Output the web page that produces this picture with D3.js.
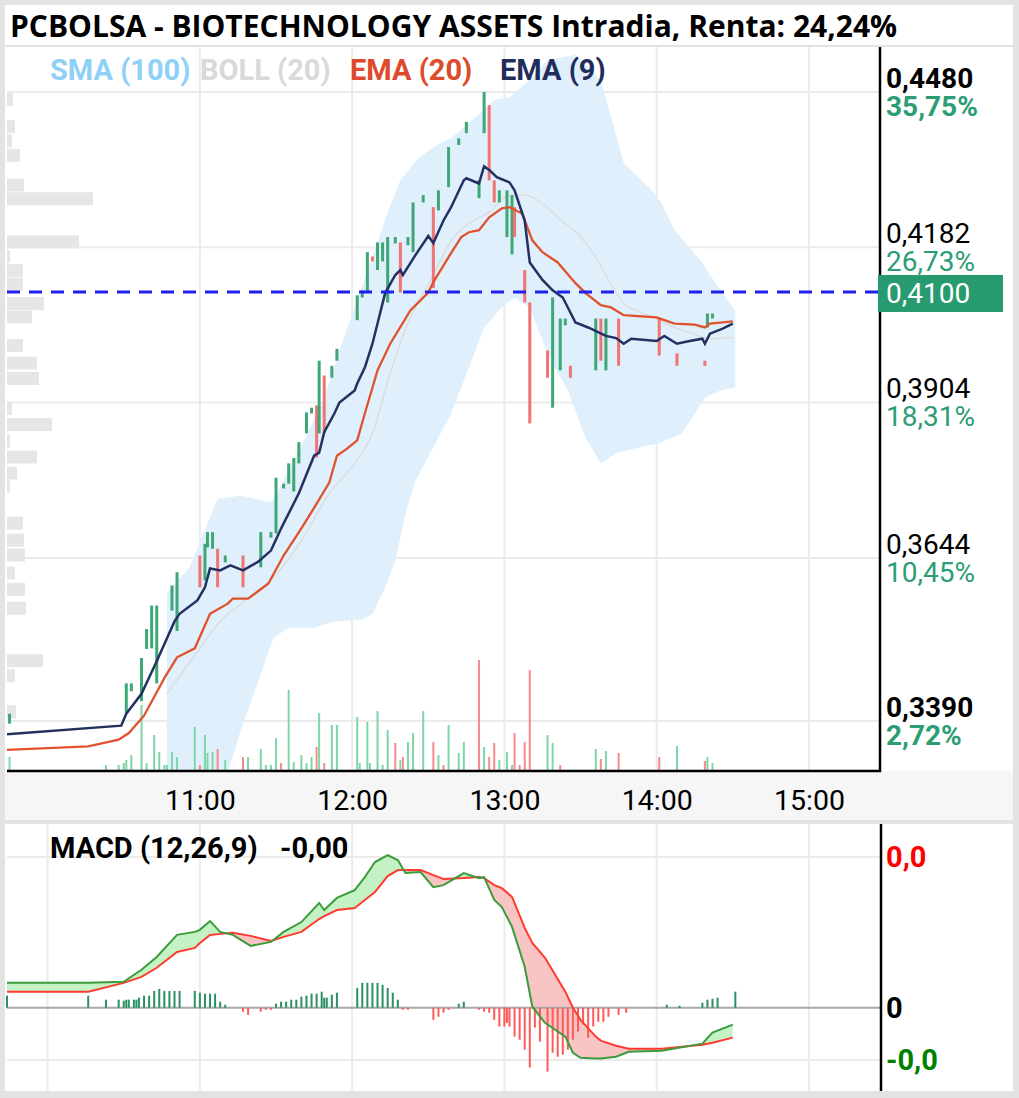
<!DOCTYPE html>
<html>
<head>
<meta charset="utf-8">
<script src="https://cdn.jsdelivr.net/npm/d3@7"></script>
<style>
  body { margin: 0; background: #fff; }
  svg { display: block; font-family: Roboto, "Noto Sans", sans-serif; }
</style>
</head>
<body>
<div id="chart"></div>
<script>
const parseTime = d3.timeParse("%H:%M");

// ---- DATA ----
const title = "PCBOLSA - BIOTECHNOLOGY ASSETS Intradia, Renta: 24,24%";
const legendNames = ["SMA (100)", "BOLL (20)", "EMA (20)", "EMA (9)"];
const legendColors = ["#8fd0f7", "#d9d9d9", "#dd4a2c", "#1f2d5c"];

const priceTicks = [0.4480, 0.4182, 0.3904, 0.3644, 0.3390];
const priceTickLabels = ["0,4480", "0,4182", "0,3904", "0,3644", "0,3390"];
const pctTickLabels = ["35,75%", "26,73%", "18,31%", "10,45%", "2,72%"];
const boldTicks = [true, false, false, false, true];
const lastPrice = 0.4100;
const lastPriceLabel = "0,4100";

const timeTicks = ["11:00", "12:00", "13:00", "14:00", "15:00"];
const macdGridTimes = ["10:00", "11:00", "12:00", "13:00", "14:00", "15:00"];

// candles: time, open, close
const candles = [
  ["09:45", 0.3386, 0.3401], ["10:31", 0.3401, 0.3447], ["10:33", 0.3435, 0.3447],
  ["10:37", 0.3420, 0.3486], ["10:39", 0.3500, 0.3531], ["10:41", 0.3501, 0.3568],
  ["10:43", 0.3447, 0.3568], ["10:49", 0.3560, 0.3600], ["10:51", 0.3528, 0.3621],
  ["11:00", 0.3648, 0.3597], ["11:02", 0.3608, 0.3667], ["11:03", 0.3661, 0.3686],
  ["11:05", 0.3659, 0.3686], ["11:07", 0.3659, 0.3597], ["11:10", 0.3637, 0.3648],
  ["11:17", 0.3648, 0.3597], ["11:24", 0.3629, 0.3686], ["11:28", 0.3677, 0.3686],
  ["11:30", 0.3684, 0.3776], ["11:33", 0.3758, 0.3766], ["11:35", 0.3766, 0.3800],
  ["11:37", 0.3753, 0.3809], ["11:39", 0.3800, 0.3836], ["11:42", 0.3851, 0.3887],
  ["11:44", 0.3885, 0.3895], ["11:46", 0.3899, 0.3810], ["11:47", 0.3851, 0.3977],
  ["11:49", 0.3951, 0.3851], ["11:52", 0.3947, 0.3968], ["11:54", 0.3977, 0.3998],
  ["12:02", 0.4049, 0.4094], ["12:04", 0.4090, 0.4103], ["12:06", 0.4099, 0.4173],
  ["12:08", 0.4165, 0.4156], ["12:10", 0.4140, 0.4191], ["12:12", 0.4156, 0.4191],
  ["12:14", 0.4081, 0.4201], ["12:17", 0.4189, 0.4201], ["12:19", 0.4191, 0.4099],
  ["12:22", 0.4186, 0.4201], ["12:24", 0.4173, 0.4266], ["12:28", 0.4266, 0.4280],
  ["12:32", 0.4257, 0.4107], ["12:34", 0.4251, 0.4289], ["12:38", 0.4295, 0.4372],
  ["12:42", 0.4376, 0.4389], ["12:45", 0.4399, 0.4421], ["12:50", 0.4274, 0.4308],
  ["12:52", 0.4399, 0.4480], ["12:54", 0.4454, 0.4308], ["12:56", 0.4308, 0.4266],
  ["12:58", 0.4266, 0.4289], ["13:01", 0.4201, 0.4289], ["13:03", 0.4169, 0.4280],
  ["13:04", 0.4257, 0.4201], ["13:08", 0.4140, 0.4081], ["13:10", 0.4081, 0.3868],
  ["13:17", 0.3995, 0.3947], ["13:19", 0.3895, 0.4090], ["13:22", 0.3960, 0.4052],
  ["13:24", 0.4040, 0.4052], ["13:26", 0.3968, 0.3947], ["13:36", 0.3960, 0.4052],
  ["13:38", 0.4052, 0.3977], ["13:40", 0.3960, 0.4052], ["13:45", 0.4052, 0.3968],
  ["14:01", 0.4052, 0.3986], ["14:08", 0.3990, 0.3968], ["14:19", 0.3977, 0.3968],
  ["14:20", 0.4036, 0.4061], ["14:22", 0.4052, 0.4061]
];

// volume: time, amount (thousands), up?
const volume = [
  ["09:45", 14, 1], ["10:23", 6, 1], ["10:28", 6, 1], ["10:30", 8, 1], ["10:31", 11, 1],
  ["10:33", 16, 1], ["10:37", 66, 1], ["10:39", 8, 1], ["10:42", 36, 1], ["10:44", 19, 1],
  ["10:46", 6, 1], ["10:47", 6, 1], ["10:49", 19, 1], ["10:51", 14, 1], ["10:58", 44, 1],
  ["11:00", 6, 0], ["11:02", 36, 1], ["11:03", 18, 1], ["11:05", 19, 1], ["11:07", 22, 0],
  ["11:10", 11, 1], ["11:17", 14, 0], ["11:19", 14, 1], ["11:24", 22, 1], ["11:26", 6, 1],
  ["11:28", 6, 1], ["11:30", 33, 1], ["11:32", 8, 0], ["11:35", 81, 1], ["11:37", 9, 1],
  ["11:40", 16, 1], ["11:42", 8, 1], ["11:44", 14, 1], ["11:46", 24, 0], ["11:47", 58, 1],
  ["11:49", 8, 0], ["11:52", 46, 1], ["11:54", 46, 1], ["12:02", 54, 1], ["12:03", 8, 1],
  ["12:06", 49, 1], ["12:07", 8, 1], ["12:10", 60, 1], ["12:12", 6, 1], ["12:14", 41, 1],
  ["12:17", 28, 0], ["12:19", 11, 1], ["12:20", 14, 0], ["12:22", 29, 1], ["12:24", 38, 1],
  ["12:28", 60, 1], ["12:32", 29, 0], ["12:34", 16, 1], ["12:36", 6, 0], ["12:38", 46, 1],
  ["12:42", 18, 1], ["12:44", 29, 1], ["12:50", 111, 0], ["12:52", 24, 1], ["12:54", 14, 0],
  ["12:56", 28, 0], ["12:58", 11, 1], ["13:01", 19, 1], ["13:03", 6, 1], ["13:04", 38, 0],
  ["13:06", 6, 0], ["13:08", 29, 0], ["13:10", 101, 0], ["13:17", 36, 1], ["13:19", 28, 1],
  ["13:22", 6, 0], ["13:36", 22, 1], ["13:38", 12, 0], ["13:40", 20, 1], ["13:45", 18, 0],
  ["14:01", 14, 0], ["14:08", 25, 1], ["14:19", 10, 0], ["14:20", 14, 1], ["14:22", 8, 1]
];

// volume profile: price level, traded amount
const profile = [
  [0.4464, 6], [0.4411, 8], [0.4383, 5], [0.4355, 13], [0.4298, 17], [0.4272, 86],
  [0.4191, 72], [0.4164, 3], [0.4138, 16], [0.4113, 16], [0.4078, 37], [0.4054, 25],
  [0.4003, 16], [0.3972, 30], [0.3945, 32], [0.3893, 5], [0.3865, 45], [0.3837, 3],
  [0.3810, 30], [0.3783, 10], [0.3761, 3], [0.3700, 16], [0.3672, 17], [0.3648, 18],
  [0.3619, 8], [0.3593, 18], [0.3563, 19], [0.3481, 36], [0.3458, 8], [0.3403, 9]
];

const emaFast = [
  ["09:44", 0.3370], ["10:29", 0.3383], ["10:31", 0.3401], ["10:37", 0.3431], ["10:43", 0.3481],
  ["10:50", 0.3543], ["10:52", 0.3555], ["10:59", 0.3576], ["11:02", 0.3597], ["11:04", 0.3627],
  ["11:08", 0.3624], ["11:12", 0.3632], ["11:17", 0.3624], ["11:23", 0.3638], ["11:28", 0.3656],
  ["11:32", 0.3692], ["11:39", 0.3750], ["11:45", 0.3813], ["11:47", 0.3818], ["11:49", 0.3853],
  ["11:53", 0.3885], ["11:55", 0.3904], ["12:01", 0.3925], ["12:02", 0.3937], ["12:05", 0.3965],
  ["12:08", 0.4007], ["12:10", 0.4043], ["12:13", 0.4098], ["12:17", 0.4131], ["12:19", 0.4140],
  ["12:20", 0.4131], ["12:25", 0.4168], ["12:30", 0.4203], ["12:32", 0.4190], ["12:36", 0.4232],
  ["12:39", 0.4257], ["12:44", 0.4308], ["12:45", 0.4312], ["12:50", 0.4302], ["12:52", 0.4335],
  ["12:54", 0.4328], ["12:57", 0.4314], ["13:02", 0.4304], ["13:04", 0.4289], ["13:08", 0.4232],
  ["13:10", 0.4154], ["13:15", 0.4122], ["13:19", 0.4103], ["13:23", 0.4090], ["13:28", 0.4045],
  ["13:33", 0.4036], ["13:40", 0.4021], ["13:44", 0.4017], ["13:47", 0.4007], ["13:50", 0.4016],
  ["14:00", 0.4012], ["14:03", 0.4021], ["14:08", 0.4007], ["14:13", 0.4012], ["14:18", 0.4016],
  ["14:19", 0.4007], ["14:21", 0.4025], ["14:26", 0.4034], ["14:30", 0.4043]
];

const emaSlow = [
  ["09:44", 0.3347], ["10:16", 0.3352], ["10:28", 0.3362], ["10:32", 0.3372], ["10:38", 0.3398],
  ["10:46", 0.3455], ["10:51", 0.3487], ["10:58", 0.3501], ["11:04", 0.3555], ["11:11", 0.3571],
  ["11:13", 0.3579], ["11:19", 0.3579], ["11:27", 0.3603], ["11:33", 0.3648], ["11:40", 0.3692],
  ["11:45", 0.3726], ["11:51", 0.3768], ["11:54", 0.3813], ["11:58", 0.3825], ["12:02", 0.3839],
  ["12:05", 0.3885], ["12:10", 0.3960], ["12:15", 0.4007], ["12:23", 0.4067], ["12:30", 0.4099],
  ["12:32", 0.4118], ["12:38", 0.4164], ["12:43", 0.4201], ["12:46", 0.4210], ["12:50", 0.4214],
  ["12:54", 0.4238], ["12:59", 0.4255], ["13:02", 0.4257], ["13:07", 0.4245], ["13:11", 0.4195],
  ["13:15", 0.4173], ["13:21", 0.4154], ["13:28", 0.4116], ["13:32", 0.4098], ["13:38", 0.4076],
  ["13:42", 0.4072], ["13:47", 0.4058], ["14:00", 0.4054], ["14:07", 0.4043], ["14:15", 0.4041],
  ["14:19", 0.4036], ["14:21", 0.4043], ["14:30", 0.4047]
];

const bollMid = [
  ["10:47", 0.3431], ["11:00", 0.3501], ["11:07", 0.3539], ["11:17", 0.3573], ["11:29", 0.3613],
  ["11:40", 0.3672], ["11:51", 0.3750], ["12:01", 0.3800], ["12:08", 0.3851], ["12:15", 0.3955],
  ["12:23", 0.4054], ["12:31", 0.4122], ["12:40", 0.4201], ["12:48", 0.4232], ["12:55", 0.4251],
  ["13:00", 0.4276], ["13:08", 0.4280], ["13:15", 0.4264], ["13:21", 0.4238], ["13:30", 0.4201],
  ["13:36", 0.4164], ["13:41", 0.4122], ["13:47", 0.4080], ["13:54", 0.4063], ["14:01", 0.4049],
  ["14:07", 0.4036], ["14:14", 0.4025], ["14:21", 0.4016], ["14:30", 0.4018]
];

const bandUpper = [
  ["10:47", 0.3587], ["10:51", 0.3608], ["10:56", 0.3629], ["11:03", 0.3700], ["11:07", 0.3741],
  ["11:16", 0.3746], ["11:28", 0.3735], ["11:31", 0.3755], ["11:40", 0.3831], ["11:48", 0.3900],
  ["11:57", 0.4021], ["12:08", 0.4164], ["12:14", 0.4247], ["12:19", 0.4308], ["12:26", 0.4350],
  ["12:32", 0.4372], ["12:39", 0.4389], ["12:46", 0.4419], ["12:51", 0.4440], ["12:56", 0.4464],
  ["13:02", 0.4470], ["13:10", 0.4504], ["13:17", 0.4544], ["13:28", 0.4554], ["13:38", 0.4504],
  ["13:41", 0.4450], ["13:47", 0.4341], ["13:58", 0.4289], ["14:02", 0.4264], ["14:07", 0.4214],
  ["14:18", 0.4154], ["14:21", 0.4131], ["14:30", 0.4072], ["14:31", 0.4067]
];

const bandLower = [
  ["10:47", 0.3300], ["11:10", 0.3300], ["11:16", 0.3375], ["11:23", 0.3450], ["11:29", 0.3517],
  ["11:35", 0.3533], ["11:45", 0.3533], ["11:53", 0.3543], ["12:04", 0.3546], ["12:08", 0.3555],
  ["12:13", 0.3597], ["12:17", 0.3640], ["12:21", 0.3716], ["12:25", 0.3771], ["12:39", 0.3885],
  ["12:46", 0.3965], ["12:52", 0.4036], ["12:59", 0.4072], ["13:04", 0.4090], ["13:10", 0.4072],
  ["13:17", 0.3989], ["13:25", 0.3925], ["13:32", 0.3844], ["13:38", 0.3800], ["13:44", 0.3817],
  ["13:54", 0.3828], ["14:01", 0.3834], ["14:10", 0.3851], ["14:19", 0.3912], ["14:25", 0.3925],
  ["14:31", 0.3930]
];

// MACD: time, macd line, signal line
const macdRows = [
  ["09:44", 0.00099, 0.00064], ["10:16", 0.00099, 0.00064], ["10:30", 0.00103, 0.00099],
  ["10:37", 0.00151, 0.00123], ["10:43", 0.00202, 0.00159], ["10:51", 0.00290, 0.00222],
  ["10:58", 0.00302, 0.00238], ["11:00", 0.00310, 0.00258], ["11:04", 0.00345, 0.00290],
  ["11:08", 0.00302, 0.00294], ["11:13", 0.00290, 0.00298], ["11:20", 0.00246, 0.00286],
  ["11:28", 0.00262, 0.00266], ["11:33", 0.00302, 0.00282], ["11:40", 0.00341, 0.00302],
  ["11:47", 0.00417, 0.00353], ["11:49", 0.00389, 0.00365], ["11:54", 0.00437, 0.00389],
  ["12:01", 0.00468, 0.00397], ["12:05", 0.00520, 0.00429], ["12:09", 0.00580, 0.00461],
  ["12:14", 0.00607, 0.00524], ["12:18", 0.00588, 0.00548], ["12:21", 0.00536, 0.00548],
  ["12:27", 0.00540, 0.00548], ["12:32", 0.00480, 0.00528], ["12:36", 0.00488, 0.00512],
  ["12:44", 0.00536, 0.00516], ["12:50", 0.00516, 0.00520], ["12:52", 0.00520, 0.00516],
  ["12:56", 0.00429, 0.00488], ["12:59", 0.00401, 0.00476], ["13:03", 0.00322, 0.00441],
  ["13:08", 0.00163, 0.00318], ["13:11", 0.00004, 0.00258], ["13:16", -0.00060, 0.00199],
  ["13:24", -0.00115, 0.00064], ["13:27", -0.00179, 0.00000], ["13:30", -0.00199, -0.00048],
  ["13:36", -0.00202, -0.00115], ["13:38", -0.00202, -0.00131], ["13:44", -0.00195, -0.00151],
  ["13:49", -0.00175, -0.00163], ["14:02", -0.00171, -0.00163], ["14:18", -0.00143, -0.00147],
  ["14:22", -0.00099, -0.00139], ["14:30", -0.00067, -0.00119]
];

const macdHist = [
  ["09:44", 0.00048], ["10:16", 0.00048], ["10:23", 0.00032], ["10:28", 0.00032], ["10:30", 0.00028],
  ["10:31", 0.00032], ["10:32", 0.00032], ["10:34", 0.00032], ["10:35", 0.00032], ["10:36", 0.00040],
  ["10:38", 0.00048], ["10:40", 0.00048], ["10:42", 0.00067], ["10:44", 0.00075], ["10:46", 0.00067],
  ["10:48", 0.00067], ["10:50", 0.00067], ["10:52", 0.00067], ["10:58", 0.00067], ["11:00", 0.00060],
  ["11:02", 0.00056], ["11:04", 0.00056], ["11:06", 0.00056], ["11:08", 0.00024], ["11:10", 0.00012],
  ["11:17", -0.00016], ["11:19", -0.00028], ["11:24", -0.00016], ["11:26", -0.00008], ["11:28", -0.00008],
  ["11:30", 0.00016], ["11:32", 0.00024], ["11:34", 0.00024], ["11:36", 0.00032], ["11:38", 0.00032],
  ["11:40", 0.00044], ["11:42", 0.00048], ["11:44", 0.00056], ["11:46", 0.00056], ["11:48", 0.00064],
  ["11:49", 0.00040], ["11:50", 0.00040], ["11:52", 0.00052], ["11:54", 0.00060], ["12:02", 0.00079],
  ["12:04", 0.00099], ["12:06", 0.00099], ["12:08", 0.00099], ["12:10", 0.00099], ["12:12", 0.00091],
  ["12:14", 0.00079], ["12:16", 0.00060], ["12:18", 0.00032], ["12:20", -0.00008], ["12:22", -0.00008],
  ["12:32", -0.00048], ["12:34", -0.00036], ["12:36", -0.00020], ["12:38", -0.00008], ["12:42", 0.00016],
  ["12:44", 0.00024], ["12:50", -0.00008], ["12:52", -0.00016], ["12:54", -0.00020], ["12:56", -0.00048],
  ["12:58", -0.00075], ["13:00", -0.00075], ["13:01", -0.00060], ["13:02", -0.00075], ["13:04", -0.00115],
  ["13:06", -0.00127], ["13:08", -0.00167], ["13:10", -0.00238], ["13:12", -0.00079], ["13:14", -0.00135],
  ["13:17", -0.00254], ["13:19", -0.00179], ["13:21", -0.00195], ["13:23", -0.00187], ["13:25", -0.00167],
  ["13:27", -0.00127], ["13:29", -0.00095], ["13:31", -0.00067], ["13:33", -0.00119], ["13:35", -0.00075],
  ["13:37", -0.00056], ["13:39", -0.00056], ["13:41", -0.00036], ["13:45", -0.00028], ["13:48", -0.00020],
  ["14:04", 0.00012], ["14:09", 0.00008], ["14:18", 0.00020], ["14:20", 0.00032], ["14:22", 0.00036],
  ["14:24", 0.00040], ["14:31", 0.00064]
];

const macdTicks = [0.006, 0, -0.00208];
const macdTickLabels = ["0,0", "0", "-0,0"];
const macdTickColors = ["#ff0000", "#000000", "#008000"];
const macdLabel = "MACD (12,26,9)";
const macdValueLabel = "-0,00";

// ---- LAYOUT ----
const W = 1019, H = 1098;
const pL = 7, pR = 880, pT = 47, pB = 771;
const mTop = 824, mBottom = 1091;

const svg = d3.select("#chart").append("svg")
  .attr("width", W).attr("height", H);

// frame and panels
svg.append("rect").attr("width", W).attr("height", H).attr("fill", "#e3e3e3");
svg.append("rect").attr("x", 5).attr("y", 5).attr("width", 1008).attr("height", 40).attr("fill", "#fff");
svg.append("rect").attr("x", 5).attr("y", pT).attr("width", 1008).attr("height", pB - pT).attr("fill", "#fff");
svg.append("rect").attr("x", 5).attr("y", pB).attr("width", 1008).attr("height", 49).attr("fill", "#f6f6f6");
svg.append("rect").attr("x", 5).attr("y", mTop).attr("width", 1008).attr("height", mBottom - mTop).attr("fill", "#fff");

// scales
const x = d3.scaleTime()
  .domain([parseTime("09:44"), parseTime("15:28")])
  .range([pL, pR]);
const y = d3.scaleLog()
  .domain([priceTicks[priceTicks.length - 1], priceTicks[0]])
  .range([721, 92]);
const yVol = d3.scaleLinear()
  .domain([0, d3.max(volume, d => d[1])])
  .range([pB, 660]);
const wProfile = d3.scaleLinear()
  .domain([0, d3.max(profile, d => d[1])])
  .range([0, 86]);
const ym = d3.scaleLinear()
  .domain([macdTicks[2], macdTicks[0]])
  .range([1060, 857]);

// clip
svg.append("clipPath").attr("id", "plotClip")
  .append("rect").attr("x", pL).attr("y", pT).attr("width", pR - pL).attr("height", pB - pT);

// title
svg.append("text")
  .attr("x", 10).attr("y", 37)
  .attr("font-family", "'Open Sans', sans-serif")
  .attr("font-weight", 700).attr("font-size", 30)
  .attr("fill", "#000")
  .text(title);

// grid main
const grid = svg.append("g").attr("stroke", "#ebebeb").attr("stroke-width", 2);
grid.selectAll(".hg").data(priceTicks).join("line")
  .attr("x1", pL).attr("x2", pR)
  .attr("y1", d => y(d)).attr("y2", d => y(d));
grid.selectAll(".vg").data(timeTicks).join("line")
  .attr("x1", d => x(parseTime(d))).attr("x2", d => x(parseTime(d)))
  .attr("y1", pT).attr("y2", pB);

const plot = svg.append("g").attr("clip-path", "url(#plotClip)");

// volume profile
plot.selectAll(".prof").data(profile).join("rect")
  .attr("x", pL).attr("y", d => y(d[0]) - 7)
  .attr("width", d => wProfile(d[1])).attr("height", 13)
  .attr("fill", "#e6e6e6");

// bollinger band
const bandLine = d3.line().x(d => x(parseTime(d[0]))).y(d => y(d[1])).curve(d3.curveMonotoneX);
const bandPts = bandUpper.concat(bandLower.slice().reverse());
plot.append("path")
  .attr("d", d3.line().x(d => x(parseTime(d[0]))).y(d => y(d[1]))(bandPts) + "Z")
  .attr("fill", "#dff0fc");

// volume bars
plot.selectAll(".vol").data(volume).join("rect")
  .attr("x", d => x(parseTime(d[0])) - 1)
  .attr("y", d => yVol(d[1]))
  .attr("width", 2)
  .attr("height", d => pB - yVol(d[1]))
  .attr("fill", d => d[2] ? "#7fd6a6" : "#f78a8a");

// boll middle
plot.append("path").datum(bollMid)
  .attr("d", bandLine)
  .attr("fill", "none").attr("stroke", "#dcdcdc").attr("stroke-width", 1.5);

// candles
plot.selectAll(".cdl").data(candles).join("rect")
  .attr("x", d => x(parseTime(d[0])) - 1.5)
  .attr("y", d => y(Math.max(d[1], d[2])))
  .attr("width", 3)
  .attr("height", d => Math.max(2, Math.abs(y(d[1]) - y(d[2]))))
  .attr("fill", d => d[2] >= d[1] ? "#3ea776" : "#f27373");

const priceLine = d3.line().x(d => x(parseTime(d[0]))).y(d => y(d[1]));
plot.append("path").datum(emaSlow)
  .attr("d", priceLine)
  .attr("fill", "none").attr("stroke", "#e0522e").attr("stroke-width", 2.3);
plot.append("path").datum(emaFast)
  .attr("d", priceLine)
  .attr("fill", "none").attr("stroke", "#233160").attr("stroke-width", 2.5);

// last price dashed line
svg.append("line")
  .attr("x1", pL).attr("x2", pR)
  .attr("y1", y(lastPrice)).attr("y2", y(lastPrice))
  .attr("stroke", "#1f1fee").attr("stroke-width", 3)
  .attr("stroke-dasharray", "13,9");

// legend
svg.selectAll(".leg").data(legendNames).join("text")
  .attr("x", (d, i) => 50 + i * 150).attr("y", 80)
  .attr("font-weight", 700).attr("font-size", 29)
  .attr("fill", (d, i) => legendColors[i])
  .text(d => d);

// axes lines
svg.append("line").attr("x1", pL).attr("x2", pR + 1).attr("y1", pB).attr("y2", pB)
  .attr("stroke", "#000").attr("stroke-width", 2.5);
svg.append("line").attr("x1", pR).attr("x2", pR).attr("y1", pT).attr("y2", pB + 1)
  .attr("stroke", "#000").attr("stroke-width", 2.5);

// right price labels
const yLab = svg.append("g").attr("font-size", 28);
yLab.selectAll(".pl").data(priceTicks).join("text")
  .attr("x", 886).attr("y", d => y(d) - 4)
  .attr("font-weight", (d, i) => boldTicks[i] ? 700 : 400)
  .attr("fill", "#000")
  .text((d, i) => priceTickLabels[i]);
yLab.selectAll(".pp").data(priceTicks).join("text")
  .attr("x", 886).attr("y", d => y(d) + 24)
  .attr("font-weight", (d, i) => boldTicks[i] ? 700 : 400)
  .attr("fill", "#2c9d74")
  .text((d, i) => pctTickLabels[i]);

svg.append("rect")
  .attr("x", 878).attr("y", y(lastPrice) - 17)
  .attr("width", 125).attr("height", 37)
  .attr("fill", "#279a6f");
svg.append("text")
  .attr("x", 886).attr("y", y(lastPrice) + 11)
  .attr("font-size", 28).attr("fill", "#fff")
  .text(lastPriceLabel);

// x axis labels
const xAxis = d3.axisBottom(x)
  .tickValues(timeTicks.map(parseTime))
  .tickFormat(d3.timeFormat("%H:%M"))
  .tickSize(0).tickPadding(19);
const xg = svg.append("g").attr("transform", `translate(0,${pB})`).call(xAxis);
xg.select(".domain").remove();
xg.selectAll("text").attr("font-size", 28.5).attr("font-family", "Roboto, sans-serif").attr("fill", "#000");

// ---- MACD panel ----
const xm = d => x(parseTime(d));
const mg = svg.append("g").attr("stroke", "#ebebeb").attr("stroke-width", 2);
mg.selectAll(".mh").data([macdTicks[0], macdTicks[2]]).join("line")
  .attr("x1", pL).attr("x2", pR)
  .attr("y1", d => ym(d)).attr("y2", d => ym(d));
mg.selectAll(".mv").data(macdGridTimes).join("line")
  .attr("x1", d => xm(d)).attr("x2", d => xm(d))
  .attr("y1", mTop).attr("y2", mBottom);

// fills between macd and signal
const sigTopArea = d3.area().x(d => xm(d[0])).y0(mTop).y1(d => ym(d[2]));
const sigBotArea = d3.area().x(d => xm(d[0])).y0(d => ym(d[2])).y1(mBottom);
svg.append("clipPath").attr("id", "aboveSig").append("path").attr("d", sigTopArea(macdRows));
svg.append("clipPath").attr("id", "belowSig").append("path").attr("d", sigBotArea(macdRows));
const between = d3.area().x(d => xm(d[0])).y0(d => ym(d[2])).y1(d => ym(d[1]));
svg.append("path").attr("d", between(macdRows)).attr("fill", "#c4f2c4").attr("clip-path", "url(#aboveSig)");
svg.append("path").attr("d", between(macdRows)).attr("fill", "#f9c4c4").attr("clip-path", "url(#belowSig)");

// zero line
svg.append("line").attr("x1", pL).attr("x2", pR).attr("y1", ym(0)).attr("y2", ym(0))
  .attr("stroke", "#a9a9a9").attr("stroke-width", 2);

// histogram
svg.selectAll(".hist").data(macdHist).join("rect")
  .attr("x", d => xm(d[0]) - 1)
  .attr("y", d => Math.min(ym(d[1]), ym(0)))
  .attr("width", 2)
  .attr("height", d => Math.abs(ym(d[1]) - ym(0)))
  .attr("fill", d => d[1] >= 0 ? "#2b9163" : "#ff5a5a");

svg.append("path").datum(macdRows)
  .attr("d", d3.line().x(d => xm(d[0])).y(d => ym(d[2])))
  .attr("fill", "none").attr("stroke", "#ff3b30").attr("stroke-width", 2);
svg.append("path").datum(macdRows)
  .attr("d", d3.line().x(d => xm(d[0])).y(d => ym(d[1])))
  .attr("fill", "none").attr("stroke", "#3a9c3a").attr("stroke-width", 2);

svg.append("line").attr("x1", pR + 1).attr("x2", pR + 1).attr("y1", mTop).attr("y2", mBottom)
  .attr("stroke", "#000").attr("stroke-width", 2.5);

svg.selectAll(".ml").data(macdTicks).join("text")
  .attr("x", 886).attr("y", d => ym(d)).attr("dy", "0.36em")
  .attr("font-size", 29).attr("font-weight", 700)
  .attr("fill", (d, i) => macdTickColors[i])
  .text((d, i) => macdTickLabels[i]);

svg.append("text").attr("x", 50).attr("y", 858)
  .attr("font-size", 29).attr("font-weight", 700).attr("fill", "#000")
  .text(macdLabel);
svg.append("text").attr("x", 280).attr("y", 858)
  .attr("font-size", 29).attr("font-weight", 700).attr("fill", "#000")
  .text(macdValueLabel);
</script>
</body>
</html>
